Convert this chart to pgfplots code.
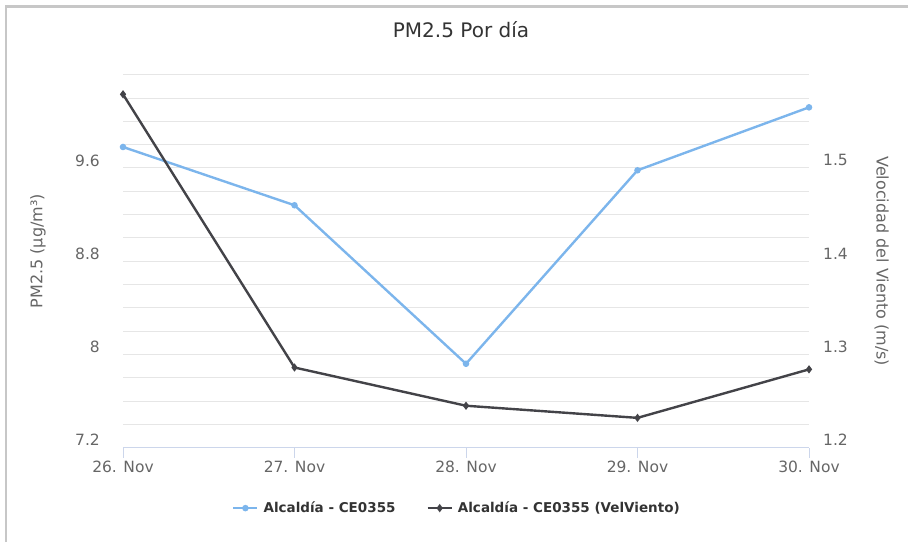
\documentclass[border=0pt]{standalone}
\usepackage{fontspec}
\setmainfont{DejaVu Sans}
\usepackage{pgfplots}
\pgfplotsset{compat=1.18}
\definecolor{hcblue}{HTML}{7CB5EC}
\definecolor{hcdark}{HTML}{434348}
\definecolor{gridc}{HTML}{E6E6E6}
\definecolor{axisc}{HTML}{CCD6EB}
\definecolor{labc}{HTML}{666666}
\definecolor{titc}{HTML}{333333}
\begin{document}
\begin{tikzpicture}[x=1pt,y=1pt]
\useasboundingbox (0,0) rectangle (908,542);
\draw[color=black!22, line width=2.5] (6,0) -- (6,535.5) -- (908,535.5);
\node[font=\fontsize{20}{24}\selectfont, text=titc] at (461,512) {PM2.5 Por día};
\begin{axis}[
  scale only axis, width=686pt, height=373pt,
  at={(123pt,94.3pt)}, anchor=south west,
  xmin=0, xmax=4, ymin=7.2, ymax=10.4,
  axis x line*=bottom, axis y line*=left,
  x axis line style={draw=axisc, line width=1pt, -},
  y axis line style={draw=none},
  xtick={0,1,2,3,4},
  xticklabels={26. Nov, 27. Nov, 28. Nov, 29. Nov, 30. Nov},
  tick align=outside,
  xtick style={draw=axisc, line width=1pt},
  major tick length=10pt,
  ytick={7.2,7.4,7.6,7.8,8,8.2,8.4,8.6,8.8,9,9.2,9.4,9.6,9.8,10,10.2,10.4},
  yticklabels={7.2,,,,8,,,,8.8,,,,9.6,,,,},
  ytick style={draw=none},
  ymajorgrids, grid style={draw=gridc, line width=1pt},
  xticklabel style={font=\fontsize{15.5}{18}\selectfont, text=labc},
  yticklabel style={font=\fontsize{15.5}{18}\selectfont, text=labc, anchor=east, inner sep=0pt, xshift=-13pt, yshift=7.5pt},
  /pgf/number format/assume math mode=true,
  ylabel={PM2.5 (µg/m³)},
  every axis y label/.style={at={(axis description cs:-0.124,0.527)}, rotate=90, anchor=center, font=\fontsize{16}{19}\selectfont, text=labc},
  legend style={at={(axis description cs:0.489,-0.162)}, anchor=center, draw=none, fill=none,
    font=\bfseries\fontsize{13.5}{16}\selectfont, text=titc, legend columns=2,
    nodes={inner xsep=5pt},
    /tikz/every even column/.append style={column sep=26pt}},
  legend image code/.code={\draw[mark repeat=2, mark phase=2] plot coordinates {(0pt,0pt) (12pt,0pt) (24pt,0pt)};},
  clip=false,
]
\addplot[hcblue, line width=2.4pt, mark=*, mark size=2pt] coordinates {
  (0,9.78) (1,9.28) (2,7.92) (3,9.58) (4,10.12)};
\addlegendentry{Alcaldía - CE0355}
\addlegendimage{hcdark, line width=2.4pt, mark=diamond*, mark size=2.2pt}
\addlegendentry{Alcaldía - CE0355 (VelViento)}
\end{axis}
\begin{axis}[
  scale only axis, width=686pt, height=373pt,
  at={(123pt,94.3pt)}, anchor=south west,
  xmin=0, xmax=4, ymin=1.2, ymax=1.6,
  axis x line=none, axis y line*=right,
  y axis line style={draw=none},
  ytick={1.2,1.3,1.4,1.5},
  yticklabels={1.2,1.3,1.4,1.5},
  ytick style={draw=none},
  yticklabel style={font=\fontsize{15.5}{18}\selectfont, text=labc, anchor=west, inner sep=0pt, xshift=14pt, yshift=7.5pt},
  /pgf/number format/assume math mode=true,
  ylabel={Velocidad del Viento (m/s)},
  every axis y label/.style={at={(axis description cs:1.106,0.5)}, rotate=-90, anchor=center, font=\fontsize{16}{19}\selectfont, text=labc},
  clip=false,
]
\addplot[hcdark, line width=2.4pt, mark=diamond*, mark size=2.2pt] coordinates {
  (0,1.579) (1,1.286) (2,1.245) (3,1.232) (4,1.284)};
\end{axis}
\end{tikzpicture}
\end{document}
